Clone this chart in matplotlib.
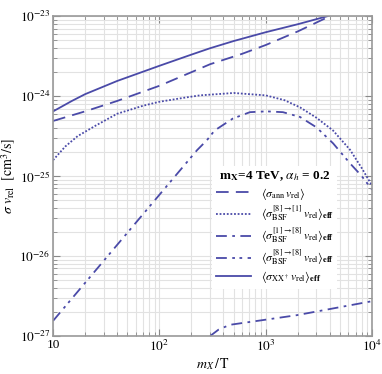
import numpy as np
import matplotlib
matplotlib.use("Agg")
import matplotlib.pyplot as plt
from matplotlib.ticker import FixedLocator, FuncFormatter, LogLocator, NullFormatter

plt.rcParams['font.family'] = ['Liberation Serif', 'DejaVu Serif']
plt.rcParams['mathtext.fontset'] = 'stix'

# values (y as log10)
x_xx = [10, 15, 20, 40, 100, 200, 300, 500, 1000, 2000, 4300]
y_xx = [-24.19, -24.06, -23.975, -23.81, -23.62, -23.48, -23.40, -23.31, -23.20, -23.10, -22.98]

x_ann = [10, 20, 40, 100, 200, 300, 600, 1000, 2000, 4300]
y_ann = [-24.31, -24.19, -24.06, -23.87, -23.70, -23.60, -23.47, -23.36, -23.19, -22.98]

x_81 = [10, 13, 17, 25, 40, 70, 100, 170, 240, 500, 1000, 1500, 2100, 3000, 4300, 6200, 8000, 10000]
y_81 = [-24.80, -24.63, -24.50, -24.37, -24.22, -24.12, -24.07, -24.02, -23.99, -23.96, -23.99,
        -24.05, -24.14, -24.27, -24.43, -24.67, -24.90, -25.12]

x_88 = [10, 226, 280, 330, 490, 710, 1020, 1450, 2100, 3000, 4300, 6200, 8000, 10000]
y_88 = [-26.81, -24.675, -24.55, -24.43, -24.28, -24.20, -24.19, -24.20, -24.26, -24.39, -24.59,
        -24.84, -25.00, -25.17]

x_18 = [300, 360, 460, 950, 1950, 9500, 10000]
y_18 = [-27.0, -26.92, -26.86, -26.80, -26.74, -26.57, -26.56]

col = '#4a4aa8'
lw = 1.3

fig = plt.figure(figsize=(3.82, 3.74), dpi=100)
ax = fig.add_axes([0.139, 0.1016, 0.835, 0.855])

ax.plot(x_ann, 10**np.array(y_ann), color=col, lw=lw, dashes=(7, 4),
        label=r'$\langle\sigma_{\rm ann}\,v_{\rm rel}\rangle$')
ax.plot(x_81, 10**np.array(y_81), color=col, lw=lw, dashes=(1, 1),
        label=r'$\langle\sigma^{[8]\to[1]}_{\rm BSF}\,v_{\rm rel}\rangle_{\mathbf{eff}}$')
ax.plot(x_18, 10**np.array(y_18), color=col, lw=lw, dashes=(6, 3, 1.5, 3),
        label=r'$\langle\sigma^{[1]\to[8]}_{\rm BSF}\,v_{\rm rel}\rangle_{\mathbf{eff}}$')
ax.plot(x_88, 10**np.array(y_88), color=col, lw=lw, dashes=(6, 3, 1.5, 2.5, 1.5, 3),
        label=r'$\langle\sigma^{[8]\to[8]}_{\rm BSF}\,v_{\rm rel}\rangle_{\mathbf{eff}}$')
ax.plot(x_xx, 10**np.array(y_xx), color=col, lw=lw,
        label=r'$\langle\sigma_{{\rm XX}^\dagger}\,v_{\rm rel}\rangle_{\mathbf{eff}}$')

ax.set_xscale('log')
ax.set_yscale('log')
ax.set_xlim(10, 1e4)
ax.set_ylim(1e-27, 1e-23)

ax.xaxis.set_major_locator(FixedLocator([10, 100, 1000, 10000]))
ax.xaxis.set_major_formatter(FuncFormatter(
    lambda v, p: '10' if v == 10 else r'$10^{%d}$' % round(np.log10(v))))
ax.yaxis.set_major_formatter(FuncFormatter(lambda v, p: r'$10^{%d}$' % round(np.log10(v))))
for a in (ax.xaxis, ax.yaxis):
    a.set_minor_locator(LogLocator(base=10, subs=np.arange(2, 10)))
    a.set_minor_formatter(NullFormatter())

ax.grid(True, which='both', color='#e2e2e2', lw=0.8)
ax.set_axisbelow(True)
ax.tick_params(which='both', direction='in', top=True, right=True, color='#888888', labelsize=9.5)
ax.tick_params(which='major', length=5, pad=2)
ax.tick_params(which='minor', length=3)
for s in ax.spines.values():
    s.set_color('#999999')
    s.set_linewidth(1.2)

ax.set_xlabel(r'$m_X\,/\,\mathrm{T}$', fontsize=10, labelpad=2)
ax.set_ylabel(r'$\sigma\ v_{\rm rel}\ \ [\mathrm{cm}^3/\mathrm{s}]$', fontsize=10, labelpad=1)

leg = ax.legend(loc='upper left', bbox_to_anchor=(0.48, 0.55), fontsize=8.5,
                title=r'$\mathbf{m_X}$=4 TeV, $\boldsymbol{\alpha_h}$ = 0.2',
                frameon=True, fancybox=False, edgecolor='none', framealpha=1,
                handlelength=3.0, labelspacing=0.2, borderpad=0.3, handletextpad=0.8)
leg.get_title().set_fontweight('bold')
leg.get_title().set_fontsize(9.5)

fig.savefig('out.png', dpi=100)
